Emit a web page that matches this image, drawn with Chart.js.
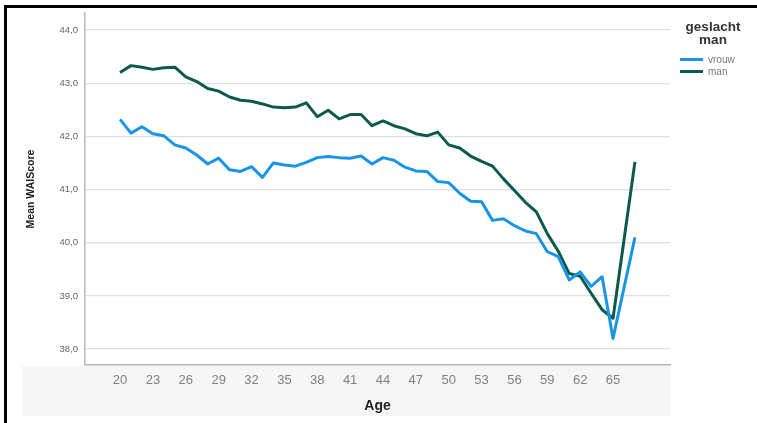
<!DOCTYPE html>
<html>
<head>
<meta charset="utf-8">
<script src="https://cdn.jsdelivr.net/npm/chart.js@4/dist/chart.umd.min.js"></script>
<style>
  html, body { margin: 0; padding: 0; background: #fff; }
  #wrap { position: relative; width: 757px; height: 423px; }
</style>
</head>
<body>
<div id="wrap"><canvas id="c" width="757" height="423"></canvas></div>
<script>
// ---- data ----
const ages = [20,21,22,23,24,25,26,27,28,29,30,31,32,33,34,35,36,37,38,39,40,41,42,43,
              44,45,46,47,48,49,50,51,52,53,54,55,56,57,58,59,60,61,62,63,64,65,66,67];
const vrouw = [42.32,42.06,42.18,42.05,42.01,41.84,41.78,41.65,41.48,41.59,41.37,41.34,41.43,41.23,41.50,41.46,
               41.44,41.51,41.60,41.62,41.60,41.59,41.63,41.48,41.60,41.55,41.42,41.35,41.34,41.15,41.13,40.93,
               40.78,40.77,40.42,40.45,40.32,40.22,40.17,39.83,39.74,39.30,39.45,39.18,39.36,38.20,39.15,40.10];
const man = [43.20,43.33,43.30,43.26,43.29,43.30,43.12,43.03,42.90,42.85,42.74,42.68,42.66,42.61,42.55,42.54,
             42.55,42.63,42.37,42.49,42.33,42.41,42.41,42.20,42.29,42.20,42.14,42.05,42.01,42.08,41.84,41.78,
             41.63,41.53,41.44,41.20,40.98,40.76,40.58,40.17,39.84,39.42,39.37,39.05,38.74,38.58,40.05,41.52];
const seriesNames = ['vrouw', 'man'];
const xTickValues = [20,23,26,29,32,35,38,41,44,47,50,53,56,59,62,65];
const yTickValues = [38,39,40,41,42,43,44];
const legendTitle = ['geslacht', 'man'];
const xTitle = 'Age';
const yTitle = 'Mean WAIScore';

const colors = ['#1a94e6', '#0d5a4d'];
const FONT = "'Liberation Sans', Arial, sans-serif";

const toPts = arr => ages.map((a, i) => ({ x: a, y: arr[i] }));

const decor = {
  id: 'decor',
  beforeDraw(chart) {
    const ctx = chart.ctx;
    ctx.save();
    ctx.fillStyle = '#f6f6f6';
    ctx.fillRect(22, 366, 648, 50);
    ctx.restore();
  },
  afterDraw(chart) {
    const ctx = chart.ctx;
    ctx.save();
    // frame
    ctx.fillStyle = '#000';
    ctx.fillRect(4, 5, 753, 3);
    ctx.fillRect(4, 5, 3, 418);
    // legend
    ctx.fillStyle = '#333';
    ctx.font = 'bold 13.5px ' + FONT;
    ctx.textAlign = 'center';
    ctx.textBaseline = 'middle';
    ctx.fillText(legendTitle[0], 713, 27);
    ctx.fillText(legendTitle[1], 713, 40);
    chart.data.datasets.forEach((ds, i) => {
      const y = 59.5 + i * 12;
      ctx.strokeStyle = ds.borderColor;
      ctx.lineWidth = 3;
      ctx.beginPath();
      ctx.moveTo(680, y);
      ctx.lineTo(703, y);
      ctx.stroke();
      ctx.fillStyle = '#777';
      ctx.font = '10px ' + FONT;
      ctx.textAlign = 'left';
      ctx.fillText(ds.label, 708, y + 0.5);
    });
    ctx.restore();
  }
};

new Chart(document.getElementById('c'), {
  type: 'line',
  data: {
    datasets: [
      { label: seriesNames[0], data: toPts(vrouw), borderColor: colors[0], backgroundColor: colors[0] },
      { label: seriesNames[1], data: toPts(man), borderColor: colors[1], backgroundColor: colors[1] }
    ]
  },
  options: {
    responsive: false,
    animation: false,
    devicePixelRatio: 1,
    layout: { padding: { left: 0, right: 87, top: 13, bottom: 0 } },
    elements: {
      point: { radius: 0 },
      line: { borderWidth: 3, tension: 0, borderJoinStyle: 'round', borderCapStyle: 'butt' }
    },
    plugins: { legend: { display: false }, tooltip: { enabled: false } },
    scales: {
      x: {
        type: 'linear',
        min: 16.8,
        max: 70.2,
        afterBuildTicks: s => { s.ticks = xTickValues.map(v => ({ value: v })); },
        afterFit: s => { s.height = 58; },
        grid: { display: false, drawTicks: false },
        border: { display: true, color: '#b5b5b5', width: 1.5 },
        ticks: {
          padding: 8, autoSkip: false, maxRotation: 0, color: '#808080',
          font: { family: FONT, size: 13 },
          callback: v => String(v)
        },
        title: {
          display: true, text: xTitle, color: '#222',
          font: { family: FONT, size: 14, weight: 'bold' },
          padding: { top: 0, bottom: 8 }
        }
      },
      y: {
        min: 37.7,
        max: 44.32,
        afterBuildTicks: s => { s.ticks = yTickValues.map(v => ({ value: v })); },
        afterFit: s => { s.width = 85; },
        grid: { color: '#dedede', lineWidth: 1.2, drawTicks: false },
        border: { display: true, color: '#bbbbbb', width: 1.5 },
        ticks: {
          padding: 7, color: '#666',
          font: { family: FONT, size: 9.5 },
          callback: v => Number(v).toFixed(1).replace('.', ',')
        },
        title: {
          display: true, text: yTitle, color: '#222',
          font: { family: FONT, size: 10.5, weight: 'bold' },
          padding: { top: 25, bottom: 0 }
        }
      }
    }
  },
  plugins: [decor]
});
</script>
</body>
</html>
